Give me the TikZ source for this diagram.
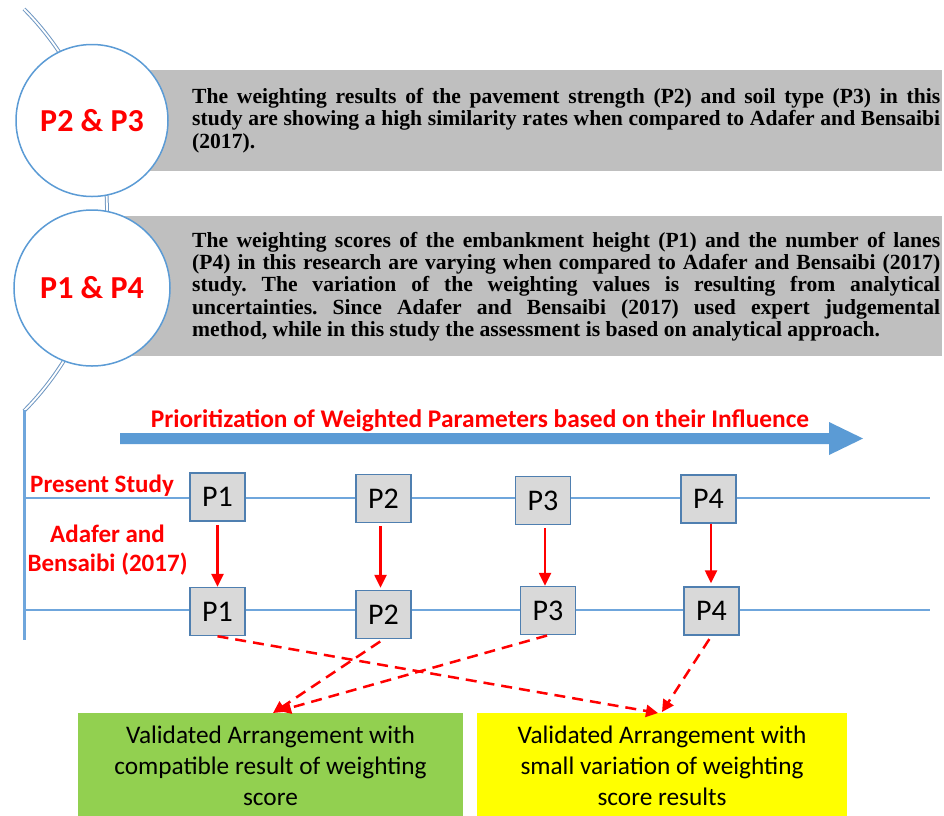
\documentclass[tikz,border=0pt]{standalone}
\usepackage{fontspec}
\setmainfont{Liberation Serif}
\newfontfamily\carlito{Carlito}
\usetikzlibrary{arrows.meta,calc}
\definecolor{lineblue}{HTML}{6FA6DC}
\definecolor{arrowblue}{HTML}{5B9BD5}
\definecolor{circblue}{HTML}{5B9BD5}
\definecolor{boxgray}{HTML}{BFBFBF}
\definecolor{pfill}{HTML}{D9D9D9}
\definecolor{pdraw}{HTML}{4F7FB0}
\definecolor{vgreen}{HTML}{92D050}
\definecolor{vyellow}{HTML}{FFFF00}
\definecolor{arcblue}{HTML}{6F97C2}
\definecolor{myred}{HTML}{FF0000}
\begin{document}
\begin{tikzpicture}[x=1pt,y=-1pt,
  graybox/.style={fill=boxgray, draw=none, inner sep=0pt, anchor=north west},
  circ/.style={circle, draw=circblue, fill=white, line width=1.5pt, inner sep=0pt,
    font=\carlito\bfseries\fontsize{32}{34}\selectfont, text=myred},
  bodytext/.style={anchor=west, inner sep=0pt, text width=748pt, align=justify,
    font=\bfseries\fontsize{21.6}{22.3}\selectfont},
  redlabel/.style={inner sep=0pt, text=myred, font=\carlito\bfseries\fontsize{25}{29}\selectfont},
  pbox/.style={draw=pdraw, fill=pfill, line width=1.5pt, minimum width=55pt,
    minimum height=48pt, inner sep=0pt, font=\carlito\fontsize{30}{32}\selectfont},
  hline/.style={draw=lineblue, line width=2.5pt},
  redarrow/.style={draw=myred, line width=2.5pt, -{Triangle[width=12pt,length=13pt]}},
  dasharrow/.style={draw=myred, line width=2.5pt, dash pattern=on 11pt off 7pt,
    -{Triangle[width=12pt,length=12pt]}},
  resbox/.style={inner sep=0pt, anchor=north west, minimum height=110pt},
  restext/.style={align=center, inner sep=0pt, font=\carlito\fontsize{25.3}{31}\selectfont}
]
\useasboundingbox (0,0) rectangle (944,815);

% spine
\draw[draw=arcblue, double=white, line width=1pt, double distance=1.8pt]
  (24,9) arc[start angle=-44.85, end angle=44.85, radius=285];
\coordinate (vtop) at (24,410);
\coordinate (vbot) at (24,640);
\draw[hline, line width=3pt] (vtop) -- (vbot);

% gray boxes
\node[graybox, minimum width=850pt, minimum height=101pt] (g1) at (92,70) {};
\node[graybox, minimum width=850pt, minimum height=140pt] (g2) at (92,216) {};

% circles
\node[circ, minimum size=152pt] (c1) at (92,120.5) {P2 \& P3};
\node[circ, minimum size=156pt] (c2) at (92,288) {P1 \& P4};

% texts
\node[bodytext] (t1) at (192,120.5) {\frenchspacing The weighting results of the pavement strength (P2) and soil type (P3) in this\linebreak study are showing a high similarity rates when compared to Adafer and Bensaibi\linebreak (2017).};
\node[bodytext] (t2) at (192,286.5) {\frenchspacing The weighting scores of the embankment height (P1) and the number of lanes\linebreak (P4) in this research are varying when compared to Adafer and Bensaibi (2017)\linebreak study. The variation of the weighting values is resulting from analytical\linebreak uncertainties. Since Adafer and Bensaibi (2017) used expert judgemental\linebreak method, while in this study the assessment is based on analytical approach.};

% big arrow
\fill[arrowblue] (120,433) -- (829,433) -- (829,422) -- (863,438.5) -- (829,455) -- (829,444) -- (120,444) -- cycle;
\node[redlabel, font=\carlito\bfseries\fontsize{25.4}{28}\selectfont, anchor=base] (title) at (480,427) {Prioritization of Weighted Parameters based on their Influence};

% timelines
\coordinate (l1s) at (24,498);
\coordinate (l1e) at (930,498);
\coordinate (l2s) at (24,610);
\coordinate (l2e) at (930,610);
\draw[hline] (l1s) -- (l1e);
\draw[hline] (l2s) -- (l2e);

\node[redlabel, anchor=base west] (ps) at (30,492) {Present Study};
\node[redlabel, anchor=base, align=center] (ab) at (107.5,571) {Adafer and\\Bensaibi (2017)};

% P boxes
\node[pbox] (a1) at (217.5,497) {P1};
\node[pbox] (a2) at (383.5,498.5) {P2};
\node[pbox] (a3) at (543,500.5) {P3};
\node[pbox] (a4) at (708.5,499) {P4};
\node[pbox] (b1) at (217.5,611.5) {P1};
\node[pbox] (b2) at (383.5,614.5) {P2};
\node[pbox] (b3) at (548,610.5) {P3};
\node[pbox] (b4) at (711.5,611) {P4};

\draw[redarrow, shorten <=3pt] (a1.south) -- (a1.south |- b1.north);
\draw[redarrow, shorten <=3pt] ($(a2.south)+(-3,0)$) -- ($(a2.south |- b2.north)+(-3,-2)$);
\draw[redarrow, shorten <=3pt] ($(a3.south)+(2,0)$) -- ($(a3.south |- b3.north)+(2,0)$);
\draw[redarrow] ($(a4.south)+(2.5,0)$) -- ($(a4.south |- b4.north)+(2.5,-3)$);

% result boxes
\node[resbox, fill=vgreen, minimum width=385pt] (gb) at (78,713) {};
\node[resbox, fill=vyellow, minimum width=370pt] (yb) at (477,713) {};
\node[restext] (gbt) at (270.5,766) {Validated Arrangement with\\compatible result of weighting\\score};
\node[restext] (ybt) at (662,766) {Validated Arrangement with\\small variation of weighting\\score results};

\coordinate (g2tip) at (273,713);
\coordinate (g3tip) at (279,711);
\coordinate (y1tip) at (658,713);
\coordinate (y4tip) at (662,712);
\draw[dasharrow] (b1.south) -- (y1tip);
\draw[dasharrow, shorten <=4pt] (b2.south) -- (g2tip);
\draw[dasharrow, shorten <=1pt] (b3.south) -- (g3tip);
\draw[dasharrow, shorten <=4pt] (b4.south) -- (y4tip);
\end{tikzpicture}
\end{document}
